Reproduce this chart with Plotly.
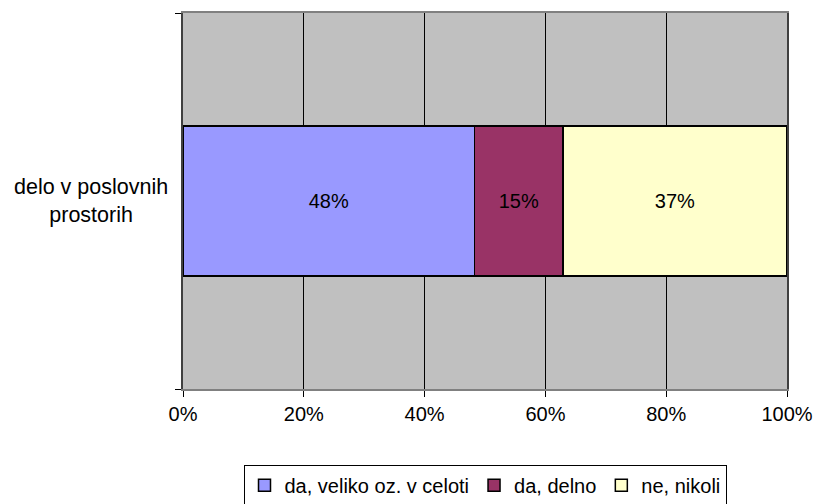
import plotly.graph_objects as go

categories = ["delo v poslovnih<br>prostorih"]
series_names = ["da, veliko oz. v celoti", "da, delno", "ne, nikoli"]
series_values = [[48.3], [14.6], [37.1]]
series_labels = [["48%"], ["15%"], ["37%"]]
colors = ["#9999FF", "#993366", "#FFFFCC"]
x_ticks = [0, 20, 40, 60, 80, 100]
x_tick_labels = ["0%", "20%", "40%", "60%", "80%", "100%"]

FONT = "Liberation Sans, Arial"

fig = go.Figure()
for name, vals, labs, col in zip(series_names, series_values, series_labels, colors):
    fig.add_trace(go.Bar(
        y=categories, x=vals, name=name, orientation="h",
        marker=dict(color=col, line=dict(color="black", width=1.5)),
        text=labs, textposition="inside", insidetextanchor="middle",
        textfont=dict(color="black", size=20, family=FONT),
        width=0.4, hoverinfo="skip",
    ))

# category label (centered multi-line, like the reference)
fig.add_annotation(
    x=0, xref="paper", xanchor="right", xshift=-13,
    y=categories[0], yref="y", yanchor="middle",
    text=categories[0], showarrow=False, align="center",
    font=dict(size=21.5, family=FONT, color="black"),
)

fig.update_layout(
    barmode="stack",
    width=818, height=504,
    margin=dict(l=183, r=31, t=13, b=115, autoexpand=False),
    paper_bgcolor="white",
    plot_bgcolor="#C0C0C0",
    font=dict(family=FONT, size=20, color="black"),
    xaxis=dict(
        range=[0, 100], tickvals=x_ticks, ticktext=x_tick_labels,
        showgrid=True, gridcolor="#000000", gridwidth=1,
        showline=True, linecolor="#808080", linewidth=2, mirror=True,
        ticks="outside", ticklen=6, tickcolor="black", zeroline=False,
        tickfont=dict(size=20), automargin=False,
    ),
    yaxis=dict(
        range=[-0.5, 0.5], showgrid=False,
        showline=True, linecolor="#404040", linewidth=2, mirror=True,
        ticks="outside", ticklen=6, tickcolor="black", tickson="boundaries",
        showticklabels=False, automargin=False,
    ),
    showlegend=True,
    legend=dict(
        orientation="h", traceorder="normal",
        xref="paper", x=0.5, xanchor="center",
        yref="container", y=0.078, yanchor="top",
        bordercolor="black", borderwidth=1, bgcolor="white",
        font=dict(size=20), itemwidth=30, tracegroupgap=0,
    ),
)

fig.write_html(
    "out.html",
    config={"displayModeBar": False},
    post_script="document.body.style.margin='0';document.body.style.overflow='hidden';",
)
